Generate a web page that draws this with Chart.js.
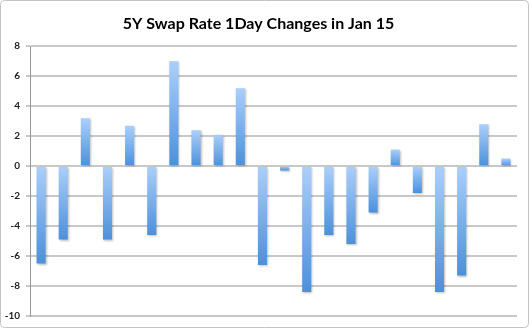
<!DOCTYPE html>
<html>
<head>
<meta charset="utf-8">
<script src="https://cdn.jsdelivr.net/npm/chart.js@4"></script>
<style>
  html, body { margin: 0; padding: 0; background: #fff; }
  #wrap { width: 530px; height: 328px; }
</style>
</head>
<body>
<div id="wrap"><canvas id="swap-chart" width="530" height="328"></canvas></div>
<script>
// days in Jan 15 (labels are not shown on the chart)
const days = ['1','2','3','4','5','6','7','8','9','10','11','12','13','14','15','16','17','18','19','20','21','22'];
// 1 day change of the 5Y swap rate (bp)
const changes = [-6.5, -4.9, 3.2, -4.9, 2.7, -4.6, 7.0, 2.4, 2.1, 5.2, -6.6, -0.3, -8.4, -4.6, -5.2, -3.1, 1.1, -1.8, -8.4, -7.3, 2.8, 0.5];
const yTicks = [8, 6, 4, 2, 0, -2, -4, -6, -8, -10];

// light on top, dark at the bottom of every bar
function barGradient(context) {
  const chart = context.chart;
  const y = chart.scales.y;
  if (!y || context.type !== 'data') return '#7fb2ec';
  const v = context.parsed.y;
  const top = y.getPixelForValue(Math.max(v, 0));
  const bottom = y.getPixelForValue(Math.min(v, 0));
  if (!isFinite(top) || !isFinite(bottom)) return '#7fb2ec';
  const g = chart.ctx.createLinearGradient(0, top, 0, bottom + 0.01);
  g.addColorStop(0, '#abcffb');
  g.addColorStop(1, '#4c90da');
  return g;
}

// small shadow under the bars
const barShadow = {
  id: 'barShadow',
  beforeDatasetsDraw(chart) {
    const ctx = chart.ctx;
    ctx.save();
    ctx.shadowColor = 'rgba(0,0,0,0.25)';
    ctx.shadowBlur = 2;
    ctx.shadowOffsetX = 1;
    ctx.shadowOffsetY = 1;
  },
  afterDatasetsDraw(chart) {
    chart.ctx.restore();
  }
};

// outer frame of the chart
const frame = {
  id: 'frame',
  afterDraw(chart) {
    const ctx = chart.ctx;
    ctx.save();
    ctx.strokeStyle = '#c4c4c4';
    ctx.lineWidth = 1;
    ctx.beginPath();
    ctx.roundRect(0.5, 0.5, chart.width - 2, chart.height - 1, 4);
    ctx.stroke();
    ctx.restore();
  }
};

const ctx = document.getElementById('swap-chart').getContext('2d');
const swapChart = new Chart(ctx, {
  type: 'bar',
  data: {
    labels: days,
    datasets: [{
      label: '5Y Swap Rate 1Day Change',
      data: changes,
      backgroundColor: barGradient,
      borderWidth: 0,
      barPercentage: 0.41,
      categoryPercentage: 1
    }]
  },
  options: {
    responsive: false,
    animation: false,
    layout: {
      padding: { top: 11, left: 0, right: 13, bottom: 11 }
    },
    plugins: {
      legend: { display: false },
      tooltip: { enabled: false },
      title: {
        display: true,
        text: '5Y Swap Rate 1Day Changes in Jan 15',
        color: '#000',
        font: { family: 'Lato', size: 16, weight: 'bold' },
        padding: { top: 3, bottom: 13 }
      }
    },
    scales: {
      x: {
        ticks: { display: false },
        grid: { display: false, drawTicks: false },
        border: { display: false }
      },
      y: {
        min: -10,
        max: 8,
        afterFit(scale) { scale.width = 30; },
        afterBuildTicks(scale) {
          scale.ticks = yTicks.map(v => ({ value: v }));
        },
        ticks: {
          padding: 6,
          color: '#222',
          font: { family: 'Lato', size: 10, weight: 'bold' }
        },
        grid: {
          color: '#c8c8c8',
          lineWidth: 2,
          tickLength: 4,
          drawTicks: true
        },
        border: { color: '#999', width: 1 }
      }
    }
  },
  plugins: [barShadow, frame]
});
// redraw so the gradients use the final scale
swapChart.update();
</script>
</body>
</html>
